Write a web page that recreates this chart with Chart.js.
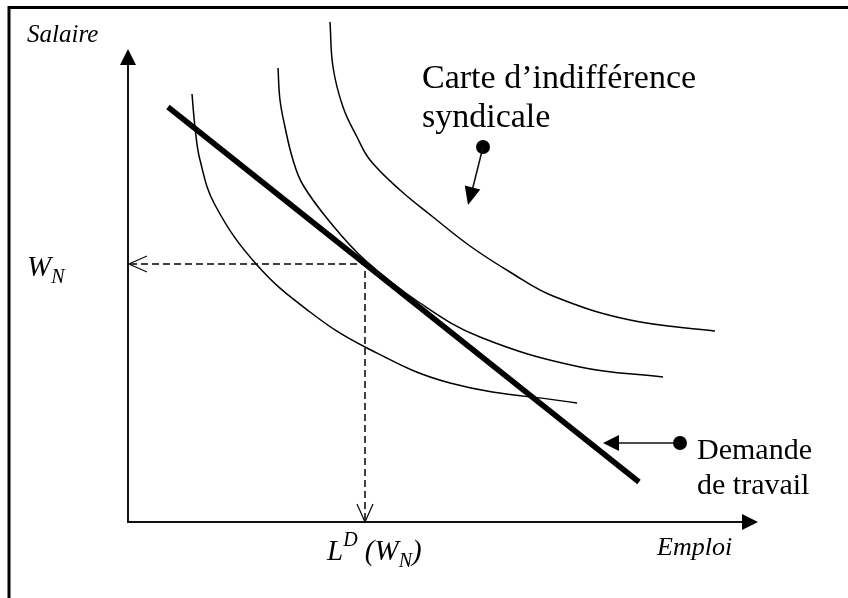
<!DOCTYPE html>
<html>
<head>
<meta charset="utf-8">
<script src="https://cdn.jsdelivr.net/npm/chart.js@4"></script>
<style>
  body { margin: 0; background: #fff; }
  #wrap { width: 848px; height: 598px; }
</style>
</head>
<body>
<div id="wrap"><canvas id="chart" width="848" height="598"></canvas></div>
<script>
// indifference curves of the union: [emploi, salaire]
const courbe1 = [[64, 428], [67, 395], [72, 362], [87, 317], [129, 257], [182, 210], [237, 175], [322, 139], [449, 119]];
const courbe2 = [[150, 454], [152, 422], [157, 395], [165, 362], [175, 337], [202, 300], [237, 262], [292, 219], [352, 185], [452, 155], [535, 145]];
const courbe3 = [[202, 500], [205, 455], [215, 415], [229, 385], [242, 362], [272, 332], [305, 305], [342, 276], [382, 250], [425, 226], [502, 202], [587, 191]];
// labour demand line
const demande = [[40, 415], [511, 40]];
// tangency point
const emploiEq = 237;
const salaireEq = 258;
// axis ends
const emploiMax = 630;
const salaireMax = 473;
// callout dots
const pointCarte = [355, 375];
const pointDemande = [552, 79];

const FONT = "'Liberation Serif', 'Times New Roman', serif";
const toXY = arr => arr.map(p => ({ x: p[0], y: p[1] }));

const thin = { showLine: true, borderColor: '#000', borderWidth: 1.5, pointRadius: 0, fill: false, tension: 0.4 };

const decor = {
    id: 'decor',
    afterDatasetsDraw(chart) {
        const ctx = chart.ctx;
        const sx = chart.scales.x, sy = chart.scales.y;
        const px = v => sx.getPixelForValue(v);
        const py = v => sy.getPixelForValue(v);

        ctx.save();
        // frame (top and left only)
        ctx.strokeStyle = '#000';
        ctx.lineWidth = 3;
        ctx.beginPath();
        ctx.moveTo(9, 598); ctx.lineTo(9, 7.5); ctx.lineTo(848, 7.5);
        ctx.stroke();

        // axes
        ctx.lineWidth = 2;
        ctx.strokeStyle = '#111';
        ctx.beginPath();
        ctx.moveTo(px(0), py(salaireMax - 12)); ctx.lineTo(px(0), py(0));
        ctx.lineTo(px(emploiMax - 12), py(0));
        ctx.stroke();

        function filledHead(tx, ty, fx, fy, len, half) {
            const a = Math.atan2(ty - fy, tx - fx);
            ctx.beginPath();
            ctx.moveTo(tx, ty);
            ctx.lineTo(tx - len * Math.cos(a) + half * Math.sin(a), ty - len * Math.sin(a) - half * Math.cos(a));
            ctx.lineTo(tx - len * Math.cos(a) - half * Math.sin(a), ty - len * Math.sin(a) + half * Math.cos(a));
            ctx.closePath();
            ctx.fillStyle = '#000';
            ctx.fill();
        }
        function openHead(tx, ty, fx, fy, len, half) {
            const a = Math.atan2(ty - fy, tx - fx);
            ctx.beginPath();
            ctx.moveTo(tx - len * Math.cos(a) + half * Math.sin(a), ty - len * Math.sin(a) - half * Math.cos(a));
            ctx.lineTo(tx, ty);
            ctx.lineTo(tx - len * Math.cos(a) - half * Math.sin(a), ty - len * Math.sin(a) + half * Math.cos(a));
            ctx.stroke();
        }
        filledHead(px(0), py(salaireMax), px(0), py(0), 16, 8);
        filledHead(px(emploiMax), py(0), px(0), py(0), 16, 8);

        // open arrows at the end of the dashed lines
        ctx.lineWidth = 1.3;
        ctx.setLineDash([]);
        openHead(px(0) + 1, py(salaireEq), px(emploiEq), py(salaireEq), 18, 8);
        openHead(px(emploiEq), py(0), px(emploiEq), py(salaireEq), 18, 8);

        // callouts
        const c1 = [px(pointCarte[0]), py(pointCarte[1])];
        const t1 = [px(pointCarte[0] - 15), py(pointCarte[1] - 58)];
        ctx.lineWidth = 1.6;
        ctx.beginPath(); ctx.moveTo(c1[0], c1[1]); ctx.lineTo(t1[0] + 3, t1[1] - 10); ctx.stroke();
        filledHead(t1[0], t1[1], c1[0], c1[1], 18, 8);

        const c2 = [px(pointDemande[0]), py(pointDemande[1])];
        const t2 = [px(pointDemande[0] - 77), py(pointDemande[1])];
        ctx.beginPath(); ctx.moveTo(c2[0], c2[1]); ctx.lineTo(t2[0] + 10, t2[1]); ctx.stroke();
        filledHead(t2[0], t2[1], c2[0], c2[1], 16, 8);

        // labels
        ctx.fillStyle = '#000';
        ctx.textBaseline = 'alphabetic';
        ctx.textAlign = 'left';
        ctx.font = 'italic 25px ' + FONT;
        ctx.fillText('Salaire', px(-101), py(480));
        ctx.font = 'italic 26px ' + FONT;
        ctx.fillText('Emploi', px(529), py(-33));

        ctx.font = '34px ' + FONT;
        ctx.fillText('Carte d\u2019indiff\u00e9rence', px(294), py(434));
        ctx.fillText('syndicale', px(294), py(395));

        ctx.font = '30px ' + FONT;
        ctx.fillText('Demande', px(569), py(63));
        ctx.fillText('de travail', px(569), py(28));

        // W_N
        let x0 = px(-101), y0 = py(246);
        ctx.font = 'italic 29px ' + FONT;
        ctx.fillText('W', x0, y0);
        x0 += ctx.measureText('W').width;
        ctx.font = 'italic 20px ' + FONT;
        ctx.fillText('N', x0, y0 + 7);

        // L^D (W_N)
        x0 = px(199); y0 = py(-38);
        ctx.font = 'italic 29px ' + FONT;
        ctx.fillText('L', x0, y0);
        x0 += ctx.measureText('L').width;
        ctx.font = 'italic 20px ' + FONT;
        ctx.fillText('D', x0, y0 - 14);
        x0 += ctx.measureText('D').width;
        ctx.font = 'italic 29px ' + FONT;
        ctx.fillText(' (W', x0, y0);
        x0 += ctx.measureText(' (W').width;
        ctx.font = 'italic 20px ' + FONT;
        ctx.fillText('N', x0, y0 + 7);
        x0 += ctx.measureText('N').width;
        ctx.font = 'italic 29px ' + FONT;
        ctx.fillText(')', x0, y0);
        ctx.restore();
    }
};

new Chart(document.getElementById('chart'), {
    type: 'scatter',
    data: {
        datasets: [
            Object.assign({ label: 'Demande de travail', data: toXY(demande) }, thin, { borderWidth: 5.5, tension: 0, order: 0 }),
            Object.assign({ label: 'Courbe 1', data: toXY(courbe1), order: 1 }, thin),
            Object.assign({ label: 'Courbe 2', data: toXY(courbe2), order: 1 }, thin),
            Object.assign({ label: 'Courbe 3', data: toXY(courbe3), order: 1 }, thin),
            {
                label: 'W_N', data: [{ x: 2, y: salaireEq }, { x: emploiEq, y: salaireEq }, { x: emploiEq, y: 1 }],
                showLine: true, borderColor: '#000', borderWidth: 1.5, borderDash: [7, 4], pointRadius: 0, order: 2
            },
            {
                label: 'points', data: [{ x: pointCarte[0], y: pointCarte[1] }, { x: pointDemande[0], y: pointDemande[1] }],
                pointRadius: 7, pointBackgroundColor: '#000', pointBorderWidth: 0, showLine: false, order: 0
            }
        ]
    },
    options: {
        responsive: false,
        animation: false,
        layout: { padding: 0, autoPadding: false },
        plugins: { legend: { display: false }, tooltip: { enabled: false } },
        scales: {
            x: { type: 'linear', min: -128, max: 720, display: false },
            y: { type: 'linear', min: -76, max: 522, display: false }
        }
    },
    plugins: [decor]
});
</script>
</body>
</html>
